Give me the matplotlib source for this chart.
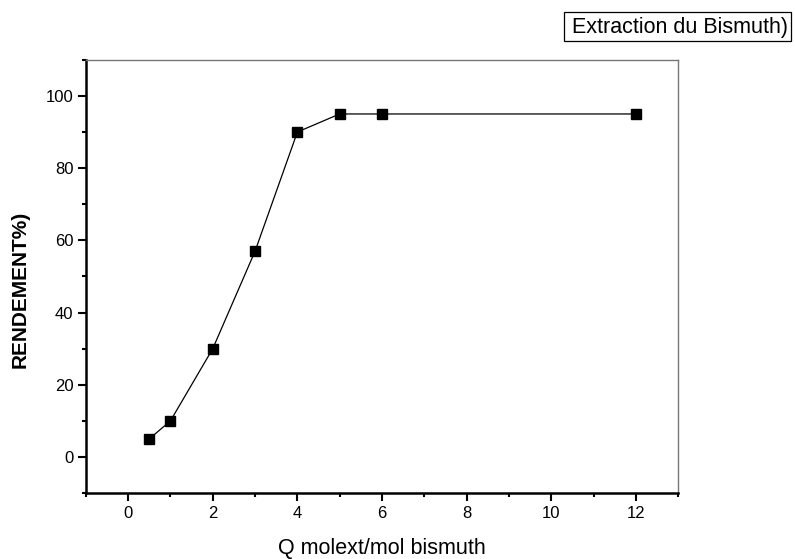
import matplotlib
matplotlib.use("Agg")
import matplotlib.pyplot as plt
from matplotlib.ticker import MultipleLocator
from matplotlib.patches import Rectangle

plt.rcParams['font.family'] = ['Liberation Sans', 'DejaVu Sans']

# Extraction yield vs. extractant ratio
ratio = [0.5, 1, 2, 3, 4, 5, 6, 12]
yield_pct = [5, 10, 30, 57, 90, 95, 95, 95]
series_label = "Extraction du Bismuth)"

fig = plt.figure(figsize=(7.95, 5.59), dpi=100)
ax = fig.add_axes([0.108, 0.118, 0.745, 0.775])

ax.plot(ratio, yield_pct, color='black', linewidth=0.9, marker='s',
        markersize=7, markerfacecolor='black', markeredgecolor='black')

ax.set_xlim(-1, 13)
ax.set_ylim(-10, 110)
ax.xaxis.set_major_locator(MultipleLocator(2))
ax.xaxis.set_minor_locator(MultipleLocator(1))
ax.yaxis.set_major_locator(MultipleLocator(20))
ax.yaxis.set_minor_locator(MultipleLocator(10))

ax.tick_params(which='both', direction='out', width=1.5, labelsize=12,
               top=False, right=False)
ax.tick_params(which='major', length=5.5, pad=3.5)
ax.tick_params(which='minor', length=3)

for side in ('left', 'bottom'):
    ax.spines[side].set_linewidth(1.8)
    ax.spines[side].set_color('black')
for side in ('top', 'right'):
    ax.spines[side].set_linewidth(1.0)
    ax.spines[side].set_color('#777777')

ax.set_xlabel("Q molext/mol bismuth", fontsize=15.5)
ax.xaxis.set_label_coords(0.5, -0.103)
ax.set_ylabel("RENDEMENT%)", fontsize=15, fontweight='bold', va='center')
ax.yaxis.set_label_coords(-0.111, 0.469)

# Series label box in the top-right corner
fig.patches.append(Rectangle((564 / 795, 1 - 41 / 559), 227 / 795, 29 / 559,
                             transform=fig.transFigure, facecolor='white',
                             edgecolor='black', linewidth=0.9))
fig.text(572 / 795, 1 - 27 / 559, series_label, fontsize=15.5,
         ha='left', va='center')

fig.savefig("out.png", dpi=100)
